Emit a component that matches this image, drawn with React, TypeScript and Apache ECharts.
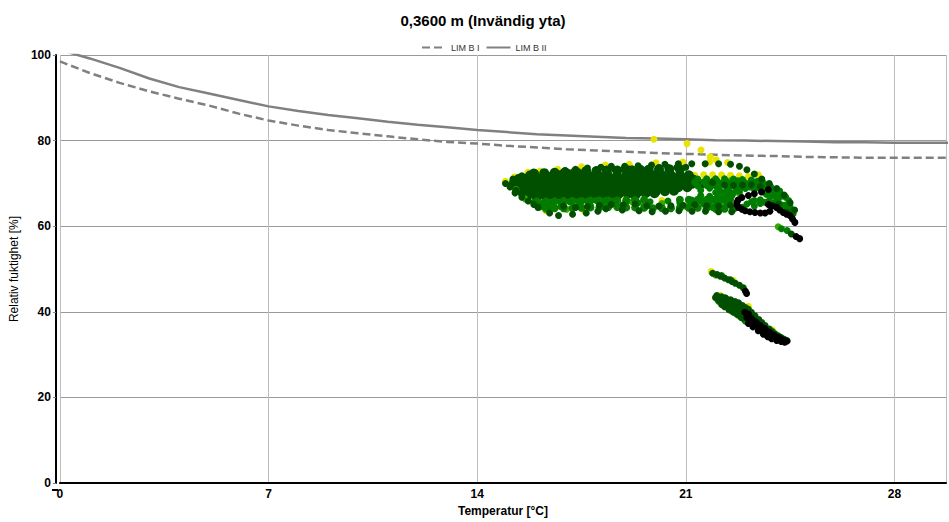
import React, { useEffect, useRef } from 'react';
import * as echarts from 'echarts';

const titleText = '0,3600 m (Invändig yta)';
const xName = 'Temperatur [°C]';
const yName = 'Relativ fuktighet [%]';
const seriesNames = ['LIM B I', 'LIM B II'];
const xTickLabels = [0, 7, 14, 21, 28];
const yTickLabels = [0, 20, 40, 60, 80, 100];

// LIM curves, read at whole degrees
const limTemps = [0, 1, 2, 3, 4, 5, 6, 7, 8, 9, 10, 11, 12, 13, 14, 15, 16, 17, 18, 19, 20, 21, 22, 23, 24, 25, 26, 27, 28, 29, 30];
const limB1 = [98.5, 95.8, 93.5, 91.5, 89.8, 88.2, 86.3, 84.7, 83.5, 82.5, 81.7, 81.0, 80.3, 79.7, 79.3, 78.8, 78.4, 78.0, 77.7, 77.4, 77.1, 76.9, 76.7, 76.5, 76.4, 76.2, 76.1, 76.0, 76.0, 76.0, 76.0];
const limB2 = [101.2, 99.2, 97.0, 94.5, 92.5, 91.0, 89.5, 88.0, 86.9, 86.0, 85.2, 84.4, 83.7, 83.1, 82.5, 82.0, 81.5, 81.2, 80.9, 80.6, 80.5, 80.3, 80.1, 80.0, 79.9, 79.8, 79.6, 79.6, 79.5, 79.5, 79.5];

// Scatter points "T RH" (temperature °C, relative humidity %)
const yellowPts = `19.93 80.3, 21.04 79.3, 21.51 77.8, 21.82 76.2, 22.02 75.5, 14.95 70.5, 15.25 71.5, 15.7 72.6, 16.1 72.9, 16.7 73.3, 17.5 73.9, 18.3 74.3, 19.1 74.5, 20.0 74.8, 20.9 75.0, 21.8 75.0, 22.4 74.9,
21.3 71.9, 21.6 72.0, 21.9 72.0, 22.2 72.0, 22.5 71.9, 22.8 71.8, 23.1 71.6, 23.43 72.0, 16.3 63.6, 17.6 63.5, 18.99 66.7, 15.8 66.0, 20.2 66.0,
21.85 49.4, 22.6 47.3, 22.15 43.9, 23.1 41.3, 23.9 35.8`;

const darkCorePts = `15.4 71.1, 15.7 71.3, 16.0 71.3, 16.3 71.4, 16.6 71.4, 16.9 71.5, 17.2 71.5, 17.5 71.6, 17.8 71.6, 18.1 71.7, 18.4 71.7, 18.7 71.7, 19.0 71.8, 19.3 71.8, 19.6 71.8, 19.9 71.9, 20.2 71.9, 20.5 71.9, 20.8 71.9, 21.1 71.9,
15.2 69.7, 15.5 69.6, 15.8 69.6, 16.1 69.6, 16.4 69.6, 16.7 69.6, 17.0 69.6, 17.3 69.7, 17.6 69.7, 17.9 69.7, 18.2 69.7, 18.5 69.8, 18.8 69.8, 19.1 69.8, 19.4 69.8, 19.7 69.9, 20.0 69.9, 20.3 69.9, 20.6 69.9, 20.9 69.9, 21.2 69.9, 21.5 69.8, 21.8 69.7,
15.5 68.0, 15.8 67.9, 16.1 67.9, 16.4 67.9, 16.7 67.9, 17.0 67.9, 17.3 67.9, 17.6 68.0, 17.9 68.0, 18.2 68.0, 18.5 68.0, 18.8 68.0, 19.1 68.1, 19.4 68.1, 19.7 68.1, 20.0 68.2, 20.3 68.2, 20.6 68.3,
16.0 66.9, 16.3 66.9, 16.6 66.9, 16.9 66.9, 17.2 66.9, 17.5 67.0, 17.8 67.0, 18.1 67.0, 18.4 67.1, 18.7 67.2, 19.3 67.2,
15.9 72.3, 16.25 72.4, 16.6 72.5, 16.95 72.6, 17.3 72.7, 17.65 72.8, 18.0 72.9, 18.35 73.0, 18.7 73.0, 19.05 73.1, 19.4 73.1, 19.75 73.2, 20.1 73.3, 20.45 73.3, 20.8 73.3,
15.25 70.5, 15.55 70.5, 15.85 70.5, 16.15 70.5, 16.45 70.5, 16.75 70.6, 17.05 70.6, 17.35 70.6, 17.65 70.7, 17.95 70.7, 18.25 70.7, 18.55 70.8, 18.85 70.8, 19.15 70.8, 19.45 70.8, 19.75 70.9, 20.05 70.9, 20.35 70.9, 20.65 70.9, 20.95 70.9, 21.25 70.9,
15.35 68.8, 15.65 68.8, 15.95 68.8, 16.25 68.8, 16.55 68.8, 16.85 68.8, 17.15 68.8, 17.45 68.9, 17.75 68.9, 18.05 68.9, 18.35 68.9, 18.65 68.9, 18.95 69.0, 19.25 69.0, 19.55 69.0, 19.85 69.0, 20.15 69.1, 20.45 69.1, 20.75 69.1, 21.05 69.1,
15.75 67.5, 16.05 67.4, 16.35 67.4, 16.65 67.4, 16.95 67.4, 17.25 67.4, 17.55 67.5, 17.85 67.5, 18.15 67.5, 18.45 67.6, 18.75 67.6, 19.05 67.6, 19.35 67.7, 19.65 67.7, 19.95 67.7`;

const greenFillPts = `16.0 65.8, 16.3 65.8, 16.6 65.8, 16.9 65.9, 17.2 65.9, 17.5 65.9, 17.8 66.0, 18.1 66.0, 18.4 66.0, 18.7 66.0, 19.0 66.1, 19.3 66.1, 19.6 66.2, 20.8 66.2, 21.1 66.2, 21.4 66.2, 21.7 66.2, 22.0 66.2, 22.3 66.2,
16.3 64.3, 16.6 64.2, 16.9 64.2, 17.2 64.2, 17.5 64.3, 17.8 64.4, 18.1 64.4, 18.4 64.5, 18.7 64.5, 19.0 64.4, 19.3 64.4, 19.6 64.3, 19.9 64.2, 20.2 64.2, 20.5 64.2, 20.8 64.3, 21.1 64.3, 21.4 64.3, 21.7 64.2, 22.0 64.1, 22.3 64.1, 22.6 64.1, 22.9 64.3`;

const lightGreenPts = `15.3 68.6, 15.6 66.4, 16.0 64.9, 16.3 63.9, 17.0 64.0, 19.6 64.9, 20.2 65.3, 21.0 64.7, 22.2 65.6, 22.8 67.6, 23.2 69.4, 23.8 67.1, 24.3 64.6, 24.1 59.9,
21.5 66.8, 22.5 70.6, 23.6 70.2, 17.4 64.6, 18.5 65.6, 19.2 65.7,
22.0 48.6, 22.15 42.9, 22.4 42.0, 22.0 43.4`;

const greenPts = `21.4 71.0, 21.7 71.1, 22.0 71.1, 22.3 71.1, 22.6 71.0, 22.9 70.9, 23.2 70.8, 23.5 70.6,
22.2 70.1, 22.5 70.0, 22.8 70.0, 23.1 70.0, 23.4 69.9, 23.7 69.6,
21.8 68.9, 22.1 68.9, 22.4 68.9, 22.7 68.8, 23.0 68.8, 23.3 68.6, 23.6 68.4, 23.9 68.1,
22.0 67.9, 22.3 67.9, 22.6 67.8, 23.9 67.2, 24.1 66.6,
21.5 67.2, 21.8 67.0, 22.1 66.9, 22.4 66.8, 23.5 66.2, 23.8 66.0, 24.1 65.8,
21.2 66.1, 21.5 65.9, 21.8 65.8, 22.1 65.8, 22.4 65.9, 23.2 65.7, 23.5 65.3, 24.2 65.0,
20.8 65.4, 21.2 65.3, 21.6 65.2, 22.0 65.1, 22.4 65.0, 23.3 64.7, 24.4 63.8, 24.6 62.9,
21.3 70.3, 21.6 70.4, 21.9 70.5, 22.35 70.5, 22.65 70.5, 22.95 70.4, 23.25 70.3, 23.55 70.1,
21.4 69.4, 21.7 69.5, 22.0 69.4, 22.45 69.3, 22.85 69.2, 23.15 69.2, 23.45 69.0, 23.75 68.8, 24.0 68.3,
21.5 68.4, 22.15 68.3, 22.45 68.3, 22.8 68.2, 24.0 67.7, 24.2 67.0,
21.9 66.3, 22.2 66.3, 22.5 66.2, 23.3 66.0, 23.65 65.6, 23.95 65.5, 24.3 64.9,
22.05 70.6, 22.75 70.6, 23.4 70.5, 23.85 69.2, 24.15 68.2, 24.35 66.8, 24.45 66.0, 22.3 67.3, 22.55 67.2, 23.7 67.5, 24.05 66.2, 24.5 64.5, 24.6 63.5, 21.9 64.4, 22.3 64.3, 23.05 65.2,
15.9 65.6, 16.2 65.5, 16.5 65.6, 16.8 65.6, 17.1 65.7, 17.4 65.8, 17.7 65.9, 18.0 66.0, 18.3 66.0, 18.6 65.9,
16.1 64.5, 16.4 64.4, 16.8 64.6, 17.8 64.8, 18.2 64.9, 19.0 65.6, 19.4 65.5, 19.8 65.7, 20.4 65.9,
24.21 59.4, 24.4 59.0,
22.2 48.5, 22.5 47.5, 22.35 43.1, 22.55 42.5, 22.5 41.3, 22.7 40.1, 22.2 42.3,
22.1 42.5, 22.25 41.8, 22.4 41.0, 22.54 40.2, 22.7 39.5, 22.85 38.7, 22.99 37.9`;

const darkEdgePts = `15.2 71.0, 15.5 71.8, 15.75 72.2, 15.95 72.4, 16.25 72.5, 16.6 72.8, 16.95 73.0, 17.3 73.3, 17.7 73.6, 18.15 73.8, 18.5 74.0, 18.95 74.0, 19.4 74.1, 19.85 74.3, 20.3 74.5, 20.75 74.6, 21.2 74.6, 21.65 74.6, 22.1 74.6, 22.5 74.5, 22.8 74.0, 23.05 73.2, 23.3 72.2, 23.55 71.0, 23.8 70.0, 24.05 68.8, 24.3 67.3, 24.5 65.5, 24.65 63.8,
15.6 71.2, 15.9 71.6, 16.2 71.9, 16.5 72.1, 16.8 72.3, 17.1 72.5, 17.4 72.7, 17.7 72.9, 18.0 73.1, 18.3 73.2, 18.6 73.3, 18.9 73.3, 19.2 73.4, 19.5 73.5, 19.8 73.6, 20.1 73.7, 20.4 73.7, 20.7 73.8, 21.0 73.8,
14.95 70.0, 15.1 69.2, 15.3 68.4,
15.27 67.8, 15.5 66.8, 15.71 65.9, 15.9 65.1, 16.04 64.4,
16.43 63.1, 16.73 62.5, 17.2 62.8, 17.66 63.1, 18.05 63.5,
18.32 64.1, 18.87 63.8, 19.43 63.6, 19.87 63.4, 20.32 63.5, 20.77 63.6, 21.21 63.5, 21.66 63.5, 22.1 63.4, 22.54 63.4,
16.9 64.7, 17.3 64.4, 17.7 64.6, 18.1 64.9, 18.5 65.1, 18.9 65.0, 19.3 65.2, 19.7 64.8, 20.1 64.7, 20.5 64.8, 20.9 64.9, 21.3 65.0, 21.7 64.8, 22.1 64.7, 22.5 64.9,
22.3 69.6, 22.6 69.5, 22.9 69.6, 23.2 69.7, 23.5 69.3, 21.9 70.2,
24.1 65.2, 24.4 63.2, 24.55 62.2, 24.54 58.2,
21.9 49.0, 22.05 48.7, 22.16 48.3, 22.3 47.9, 22.43 47.5, 22.55 47.1, 22.66 46.7, 22.8 46.2, 22.93 45.6,
22.04 43.8, 22.2 43.5, 22.32 43.3, 22.5 42.8, 22.65 42.4, 22.77 42.1, 22.9 41.5, 23.0 41.0, 23.1 40.6, 23.2 39.9, 23.32 39.1, 23.45 38.2, 23.55 37.5, 23.66 36.8, 23.8 36.0, 23.9 35.4, 23.99 34.9, 24.1 34.4, 24.2 34.0, 24.3 33.6, 24.38 33.3,
22.1 42.8, 22.25 42.0, 22.4 41.3, 22.54 40.6, 22.7 39.8, 22.85 39.0, 22.1 43.1, 22.3 42.4, 22.45 41.8, 22.6 41.2, 22.75 40.6, 22.9 40.0,
22.0 43.3, 22.15 42.7, 22.35 42.0, 22.5 41.5, 22.65 40.9, 22.8 40.3, 22.95 39.6, 22.45 40.5, 22.6 39.9, 22.75 39.3, 22.9 38.6, 22.3 41.2, 22.2 41.7`;

const blackPts = `23.77 68.6, 23.54 68.0, 23.3 67.6, 23.1 67.2, 22.88 66.7, 22.75 66.1, 22.71 65.5, 22.72 64.9, 22.77 64.4, 22.88 64.0, 22.99 63.6, 23.15 63.4, 23.32 63.2, 23.5 63.1, 23.66 63.1, 23.82 63.5,
23.77 65.1, 23.9 64.8, 24.04 64.4, 24.15 63.8, 24.27 63.2, 24.38 62.8, 24.49 62.5, 24.58 61.7, 24.66 60.9, 24.7 57.6, 24.82 57.1,
23.04 44.3, 23.0 44.8, 23.1 39.5,
23.1 37.3, 23.25 36.5, 23.43 35.6, 23.6 34.8, 23.75 34.2, 23.88 33.7, 24.05 33.3, 24.2 33.1, 24.32 32.9,
23.05 39.3, 23.2 38.5, 23.35 37.6, 23.5 36.8, 23.65 36.1, 23.8 35.3, 23.95 34.6, 24.1 34.0, 24.25 33.5, 24.4 33.2,
23.05 38.6, 23.15 38.0, 23.3 37.0, 23.45 36.2, 23.6 35.4, 23.75 34.7, 23.9 34.1, 24.05 33.7, 24.2 33.3, 23.1 39.0, 23.25 38.0, 23.4 37.2, 23.55 36.3, 23.7 35.6, 23.85 34.9, 24.0 34.3, 24.15 33.8, 24.3 33.3, 22.98 39.9`;

const parsePts = (s: string): number[][] =>
  s.split(',').map((p) => p.trim()).filter((p) => p.length > 0).map((p) => p.split(/\s+/).map(Number));

const FONT = 'Liberation Sans, Arial, sans-serif';

export default function App() {
  const ref = useRef<HTMLDivElement>(null);
  useEffect(() => {
    if (!ref.current) return;
    const chart = echarts.init(ref.current, undefined, { renderer: 'svg' });
    const scatter = (name: string, pts: string, color: string, size: number) => ({
      name,
      type: 'scatter',
      data: parsePts(pts),
      symbol: 'circle',
      symbolSize: size,
      itemStyle: { color, opacity: 1 },
      emphasis: { disabled: true },
      silent: true,
      z: 3,
    });
    chart.setOption({
      animation: false,
      textStyle: { fontFamily: FONT },
      graphic: [
        {
          type: 'text',
          x: 483,
          y: 20,
          style: {
            text: titleText,
            fontSize: 15,
            fontWeight: 'bold',
            fontFamily: FONT,
            fill: '#000',
            textAlign: 'center',
            textVerticalAlign: 'middle',
          },
        },
        {
          type: 'line',
          shape: { x1: 52, y1: 490, x2: 58, y2: 490 },
          style: { stroke: '#000', lineWidth: 2 },
          z: 10,
        },
      ],
      legend: {
        data: seriesNames,
        left: 416,
        top: 38,
        itemWidth: 24,
        itemHeight: 8,
        itemGap: 6,
        itemStyle: { opacity: 0 },
        textStyle: { fontSize: 9, color: '#333', fontFamily: 'Liberation Sans Narrow, Arial Narrow, Liberation Sans, Arial, sans-serif' },
        selectedMode: false,
      },
      grid: { left: 57, width: 892, top: 55, height: 435, containLabel: false },
      xAxis: {
        type: 'value',
        min: 0,
        max: 29.73,
        interval: 7,
        name: xName,
        nameLocation: 'middle',
        nameGap: 18,
        nameTextStyle: { fontSize: 12, fontWeight: 'bold', color: '#000', fontFamily: FONT },
        axisLine: { show: true, onZero: false, lineStyle: { color: '#000', width: 2 } },
        axisTick: { show: false },
        axisLabel: {
          fontSize: 12,
          fontWeight: 'bold',
          color: '#000',
          margin: 5,
          formatter: (v: number) => (xTickLabels.indexOf(v) >= 0 ? String(v) : ''),
        },
        splitLine: { show: true, lineStyle: { color: '#bdbdbd', width: 1 } },
      },
      yAxis: {
        type: 'value',
        min: 0,
        max: 100,
        interval: 20,
        offset: 4,
        name: yName,
        nameLocation: 'middle',
        nameGap: 27,
        nameTextStyle: { fontSize: 12, color: '#000', fontFamily: FONT },
        axisLine: { show: true, onZero: false, lineStyle: { color: '#000', width: 2 } },
        axisTick: { show: true, length: 3, lineStyle: { color: '#888' } },
        axisLabel: {
          fontSize: 12,
          fontWeight: 'bold',
          color: '#000',
          margin: 5,
          formatter: (v: number) => (yTickLabels.indexOf(v) >= 0 ? String(v) : ''),
        },
        splitLine: { show: true, lineStyle: { color: '#9a9a9a', width: 1 } },
      },
      series: [
        scatter('y', yellowPts, '#e8e400', 7),
        scatter('core', darkCorePts, '#005000', 10),
        scatter('lg', lightGreenPts, '#3aa800', 7),
        scatter('gf', greenFillPts, '#0a7a00', 8),
        scatter('g', greenPts, '#007c00', 7),
        scatter('dg', darkEdgePts, '#005000', 7),
        scatter('k', blackPts, '#000000', 7),
        {
          name: seriesNames[0],
          type: 'line',
          data: limTemps.map((t, i) => [t, limB1[i]]),
          symbol: 'none',
          smooth: false,
          lineStyle: { color: '#808080', width: 2.5, type: [8, 4] },
          itemStyle: { color: '#808080' },
          silent: true,
          z: 2,
        },
        {
          name: seriesNames[1],
          type: 'line',
          data: limTemps.map((t, i) => [t, limB2[i]]),
          symbol: 'none',
          smooth: false,
          lineStyle: { color: '#808080', width: 2.5 },
          itemStyle: { color: '#808080' },
          silent: true,
          z: 2,
        },
      ],
    });
    return () => chart.dispose();
  }, []);
  return <div ref={ref} style={{ position: 'absolute', left: 0, top: 0, width: 949, height: 522 }} />;
}
